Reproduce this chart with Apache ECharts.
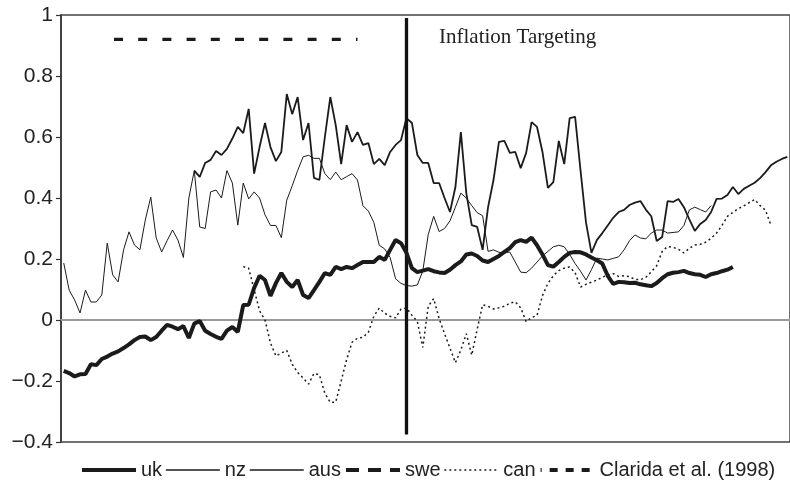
<!DOCTYPE html>
<html>
<head>
<meta charset="utf-8">
<script src="https://cdn.jsdelivr.net/npm/echarts@6/dist/echarts.min.js"></script>
<style>
  html, body { margin: 0; padding: 0; background: #fff; }
  #chart { width: 790px; height: 498px; }
</style>
</head>
<body>
<div id="chart"></div>
<script>
// observation periods (no labels are printed on the x axis)
const periods = Array.from({ length: 134 }, (_, i) => String(i + 1));
const yTickLabels = { "-0.4": "\u22120.4", "-0.2": "\u22120.2", "0": "0", "0.2": "0.2", "0.4": "0.4", "0.6": "0.6", "0.8": "0.8", "1": "1" };

// inflation targeting starts at this period
const targetingIndex = 63;

const ukStart = 0;
const uk = [
  -0.167, -0.174, -0.185, -0.178, -0.177, -0.145, -0.148, -0.128, -0.12, -0.11,
  -0.103, -0.092, -0.08, -0.066, -0.056, -0.054, -0.066, -0.056, -0.035, -0.016,
  -0.022, -0.03, -0.02, -0.059, -0.012, -0.003, -0.035, -0.046, -0.055, -0.062,
  -0.035, -0.023, -0.039, 0.049, 0.05, 0.105, 0.145, 0.131, 0.079, 0.121,
  0.154, 0.125, 0.108, 0.131, 0.082, 0.072, 0.098, 0.125, 0.154, 0.148,
  0.174, 0.167, 0.174, 0.17, 0.18, 0.19, 0.19, 0.19, 0.207, 0.197,
  0.23, 0.262, 0.252, 0.22, 0.17, 0.157, 0.162, 0.167, 0.16, 0.156,
  0.154, 0.165, 0.18, 0.192, 0.215, 0.218, 0.21, 0.195, 0.19, 0.2,
  0.21, 0.223, 0.236, 0.255, 0.262, 0.256, 0.27, 0.245, 0.215, 0.18,
  0.175, 0.19, 0.207, 0.22, 0.223, 0.222, 0.215, 0.205, 0.196, 0.185,
  0.145, 0.118, 0.125, 0.124, 0.121, 0.122, 0.117, 0.114, 0.111, 0.121,
  0.137, 0.15, 0.155, 0.157, 0.161, 0.154, 0.15, 0.148, 0.141, 0.15,
  0.154, 0.16, 0.165, 0.174
];

const nzStart = 24;
const nz = [
  0.49, 0.469, 0.515, 0.525, 0.554, 0.541, 0.561, 0.595, 0.633, 0.613,
  0.692, 0.48, 0.567, 0.646, 0.567, 0.521, 0.551, 0.741, 0.675, 0.731,
  0.59, 0.646, 0.466, 0.459, 0.6, 0.731, 0.639, 0.511, 0.639, 0.584,
  0.616, 0.574, 0.58, 0.511, 0.528, 0.508, 0.551, 0.574, 0.59, 0.662,
  0.646, 0.541, 0.515, 0.515, 0.449, 0.449, 0.4, 0.354, 0.436, 0.616,
  0.416, 0.311, 0.305, 0.23, 0.37, 0.459, 0.584, 0.587, 0.548, 0.551,
  0.498, 0.548, 0.649, 0.633, 0.551, 0.433, 0.452, 0.587, 0.511, 0.662,
  0.666, 0.49, 0.32, 0.22, 0.262, 0.285, 0.31, 0.335, 0.354, 0.361,
  0.377, 0.385, 0.39, 0.362, 0.34, 0.259, 0.272, 0.39, 0.387, 0.397,
  0.37, 0.33, 0.292, 0.315, 0.328, 0.354, 0.397, 0.398, 0.41, 0.436,
  0.413, 0.43, 0.44, 0.45, 0.465, 0.485, 0.507, 0.519, 0.528, 0.535
];

const ausStart = 0;
const aus = [
  0.187, 0.098, 0.066, 0.023, 0.098, 0.059, 0.059, 0.082, 0.252, 0.148,
  0.125, 0.23, 0.289, 0.246, 0.23, 0.328, 0.403, 0.269, 0.223, 0.26,
  0.295, 0.262, 0.205, 0.4, 0.49, 0.305, 0.3, 0.42, 0.426, 0.4,
  0.49, 0.449, 0.311, 0.449, 0.397, 0.42, 0.4, 0.345, 0.31, 0.31,
  0.27, 0.393, 0.44, 0.49, 0.535, 0.54, 0.53, 0.53, 0.48, 0.46,
  0.485, 0.46, 0.47, 0.48, 0.459, 0.375, 0.357, 0.32, 0.245, 0.233,
  0.205, 0.135, 0.12, 0.113, 0.111, 0.115, 0.16, 0.28, 0.34, 0.29,
  0.3, 0.325, 0.37, 0.416, 0.4, 0.375, 0.352, 0.342, 0.225, 0.23,
  0.222, 0.22, 0.223, 0.19, 0.157, 0.155, 0.17, 0.19, 0.21, 0.225,
  0.24, 0.245, 0.24, 0.215, 0.185, 0.16, 0.131, 0.165, 0.203, 0.2,
  0.197, 0.202, 0.207, 0.23, 0.26, 0.279, 0.269, 0.266, 0.285, 0.295,
  0.295, 0.285, 0.287, 0.289, 0.31, 0.361, 0.37, 0.362, 0.354, 0.375
];

// swe is listed in the legend but no swe line is drawn in the figure
const sweStart = 0;
const swe = [];

const canStart = 33;
const can = [
  0.175, 0.17, 0.1, 0.03, 0.0, -0.075, -0.118, -0.108, -0.1, -0.145,
  -0.172, -0.19, -0.21, -0.175, -0.18, -0.24, -0.27, -0.269, -0.2, -0.13,
  -0.073, -0.06, -0.057, -0.04, 0.012, 0.039, 0.022, 0.012, 0.007, 0.036,
  0.039, 0.016, -0.005, -0.09, 0.045, 0.07, 0.005, -0.045, -0.092, -0.14,
  -0.098, -0.045, -0.115, -0.03, 0.05, 0.045, 0.036, 0.04, 0.045, 0.055,
  0.06, 0.04, -0.005, 0.008, 0.015, 0.08, 0.12, 0.145, 0.162, 0.17,
  0.174, 0.155, 0.108, 0.117, 0.124, 0.131, 0.14, 0.148, 0.152, 0.143,
  0.145, 0.142, 0.133, 0.132, 0.14, 0.158, 0.178, 0.225, 0.241, 0.238,
  0.232, 0.22, 0.235, 0.246, 0.248, 0.255, 0.268, 0.285, 0.31, 0.34,
  0.353, 0.365, 0.374, 0.385, 0.395, 0.375, 0.36, 0.31
];

// Clarida et al. (1998) estimate, constant over its sample
const claridaValue = 0.92;
const claridaFrom = 9;
const claridaTo = 54;

function toPairs(start, values) {
  return values.map((v, k) => [start + k, v]);
}

const ink = "#1b1b1b";
const chart = echarts.init(document.getElementById("chart"), null, { renderer: "canvas" });

function lineSeries(name, data, width, type, extra) {
  return Object.assign({
    name: name,
    type: "line",
    data: data,
    symbol: "none",
    showSymbol: false,
    smooth: false,
    connectNulls: false,
    animation: false,
    lineStyle: { color: ink, width: width, type: type },
    itemStyle: { color: ink },
    emphasis: { disabled: true }
  }, extra || {});
}

chart.setOption({
  animation: false,
  grid: {
    left: 61, top: 15, right: -4, bottom: 56,
    show: true, borderColor: "#444", borderWidth: 1.5
  },
  legend: {
    left: 80, top: 460,
    itemWidth: 54, itemHeight: 14, itemGap: 3,
    padding: 0,
    itemStyle: { opacity: 0 },
    textStyle: { fontFamily: "Liberation Sans", fontSize: 20, color: "#222" },
    data: [
      { name: "uk", lineStyle: { color: ink, width: 4, type: "solid" } },
      { name: "nz", lineStyle: { color: ink, width: 1.5, type: "solid" } },
      { name: "aus", lineStyle: { color: ink, width: 1.5, type: "solid" } },
      { name: "swe", lineStyle: { color: ink, width: 4, type: [13, 9] } },
      { name: "can", lineStyle: { color: ink, width: 1.5, type: [2, 3] } },
      { name: "Clarida et al. (1998)", lineStyle: { color: ink, width: 4, type: [8, 8] } }
    ]
  },
  xAxis: {
    type: "category",
    data: periods,
    boundaryGap: true,
    axisLine: { show: true, onZero: true, lineStyle: { color: "#999", width: 2 } },
    axisTick: { show: false },
    axisLabel: { show: false },
    splitLine: { show: false }
  },
  yAxis: {
    type: "value",
    min: -0.4, max: 1, interval: 0.2,
    axisLine: { show: true, lineStyle: { color: "#333", width: 1.5 } },
    axisTick: { show: true, length: 5, lineStyle: { color: "#333", width: 1.2 } },
    axisLabel: {
      margin: 8,
      fontFamily: "Liberation Sans", fontSize: 21, color: "#222",
      formatter: (v) => yTickLabels[String(Math.round(v * 10) / 10)] || ""
    },
    splitLine: { show: false }
  },
  graphic: [{
    type: "text", left: 439, top: 27,
    style: { text: "Inflation Targeting", font: '21px "Liberation Serif", serif', fill: "#222" }
  }],
  series: [
    lineSeries("uk", toPairs(ukStart, uk), 4, "solid", {
      z: 5,
      markLine: {
        silent: true, symbol: "none", animation: false,
        label: { show: false },
        lineStyle: { color: "#111", width: 3.3, type: "solid" },
        data: [[{ coord: [periods[targetingIndex], 0.99] }, { coord: [periods[targetingIndex], -0.375] }]]
      }
    }),
    lineSeries("nz", toPairs(nzStart, nz), 1.8, "solid"),
    lineSeries("aus", toPairs(ausStart, aus), 1, "solid"),
    lineSeries("swe", toPairs(sweStart, swe), 4, [13, 9]),
    lineSeries("can", toPairs(canStart, can), 1.5, [2, 3]),
    lineSeries("Clarida et al. (1998)", [[claridaFrom, claridaValue], [claridaTo, claridaValue]], 3.3, [9, 15.2], {
      lineStyle: { color: ink, width: 3.3, type: [9, 15.2], dashOffset: 22.9 }
    })
  ]
});
</script>
</body>
</html>
